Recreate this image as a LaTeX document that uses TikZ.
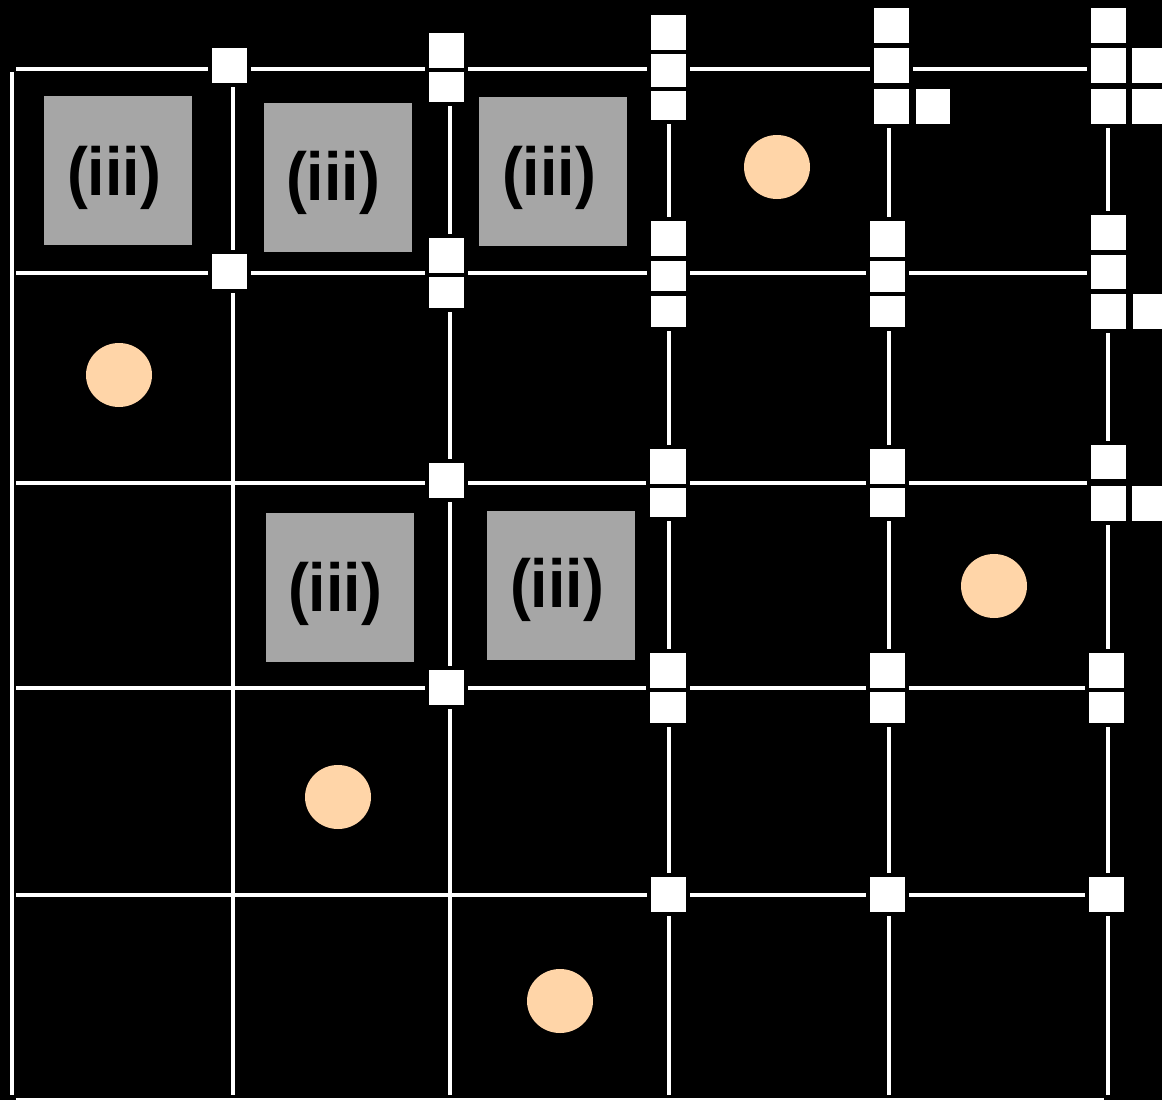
\documentclass[tikz,border=0pt]{standalone}
\usepackage{fontspec}
\setmainfont{Liberation Sans}
\definecolor{boxgrey}{HTML}{A6A6A6}
\definecolor{peach}{HTML}{FFD5A8}
\newcommand\sqbox[4]{\draw[sq] (#1-2,#2-2) rectangle (#3+2,#4+2);}
\begin{document}
\begin{tikzpicture}[x=1pt,y=-1pt,
  grid/.style={white, line width=4pt},
  sq/.style={fill=white, draw=black, line width=4pt},
  tile/.style={fill=boxgrey},
  orb/.style={fill=peach},
  lbl/.style={font=\bfseries\fontsize{68}{68}\selectfont, text=black, inner sep=0pt, xscale=0.92, transform shape}]
\useasboundingbox (0,0) rectangle (1162,1100);
\fill[black] (0,0) rectangle (1162,1100);
\clip (0,0) rectangle (1162,1100);
% horizontal grid lines
\draw[grid] (16,68.7) -- (1107,68.7);
\draw[grid] (16,273) -- (1107,273);
\draw[grid] (16,483.3) -- (1107,483.3);
\draw[grid] (16,688.3) -- (1107,688.3);
\draw[grid] (16,894.8) -- (1107,894.8);
\draw[grid] (16,1100) -- (1104,1100);
% vertical grid lines
\draw[grid] (11.5,72) -- (11.5,1095);
\draw[grid] (232.7,68) -- (232.7,1095);
\draw[grid] (450,68) -- (450,1095);
\draw[grid] (669,68) -- (669,1095);
\draw[grid] (888.5,68) -- (888.5,1095);
\draw[grid] (1107.7,68) -- (1107.7,1095);
% squares, row y=68
\sqbox{212}{48}{247}{83}
\sqbox{429.3}{33.3}{464.3}{68.3}
\sqbox{429.3}{72.3}{464.3}{101.7}
\sqbox{650.7}{14.7}{685.7}{50}
\sqbox{650.7}{54}{685.7}{87.3}
\sqbox{650.7}{91}{685.7}{120}
\sqbox{874}{8.3}{909}{43.3}
\sqbox{874}{47.7}{909}{82.7}
\sqbox{874}{89}{909}{124}
\sqbox{915.7}{89}{950.3}{124}
\sqbox{1091.3}{8.3}{1126.3}{43.3}
\sqbox{1091.3}{47.7}{1126.3}{82.7}
\sqbox{1091.3}{89}{1126.3}{124}
\sqbox{1132.3}{47.7}{1167.3}{82.7}
\sqbox{1132.3}{89}{1167.3}{124}
% squares, row y=272
\sqbox{212}{254}{247}{289}
\sqbox{429.3}{238}{464.3}{273}
\sqbox{429.3}{277.3}{464.3}{308.3}
\sqbox{650.7}{221.3}{685.7}{256.3}
\sqbox{650.7}{260.7}{685.7}{291.3}
\sqbox{650.7}{296}{685.7}{326.7}
\sqbox{870}{221}{905}{256.7}
\sqbox{870}{260.7}{905}{291.7}
\sqbox{870}{295.7}{905}{326.7}
\sqbox{1091.3}{215.3}{1126.3}{250.3}
\sqbox{1091.3}{254.7}{1126.3}{289.3}
\sqbox{1091.3}{294}{1126.3}{328.7}
\sqbox{1132.7}{294}{1167.7}{328.7}
% squares, row y=484
\sqbox{429.3}{463}{464.3}{498}
\sqbox{650.4}{449}{685.7}{484}
\sqbox{650.4}{488}{685.7}{517}
\sqbox{870}{449}{905}{484}
\sqbox{870}{488}{905}{517}
\sqbox{1091}{444.7}{1126}{479.3}
\sqbox{1091}{486}{1126}{520.7}
\sqbox{1132}{486}{1167}{520.7}
% squares, row y=688
\sqbox{429.3}{670}{464.3}{705}
\sqbox{650.4}{653}{685.7}{688}
\sqbox{650.4}{692}{685.7}{723}
\sqbox{870}{653}{905}{688}
\sqbox{870}{692}{905}{723}
\sqbox{1089}{653}{1124}{688}
\sqbox{1089}{692}{1124}{723}
% squares, row y=894
\sqbox{651}{877}{686}{912}
\sqbox{869.5}{877}{904.5}{912}
\sqbox{1089}{877}{1124}{912}
% grey tiles with labels
\fill[tile] (44,96) rectangle (192,245);
\node[lbl] (t1) at (114,178) {(iii)};
\fill[tile] (264,103) rectangle (412,252);
\node[lbl] (t2) at (333,183) {(iii)};
\fill[tile] (479,97) rectangle (627,246);
\node[lbl] (t3) at (549,178) {(iii)};
\fill[tile] (266,513) rectangle (414,662);
\node[lbl] (t4) at (335,594) {(iii)};
\fill[tile] (487,511) rectangle (635,660);
\node[lbl] (t5) at (557,590) {(iii)};
% orbs
\fill[orb] (777,167) ellipse [x radius=33, y radius=32];
\fill[orb] (119,375) ellipse [x radius=33, y radius=32];
\fill[orb] (994,586) ellipse [x radius=33, y radius=32];
\fill[orb] (338,797) ellipse [x radius=33, y radius=32];
\fill[orb] (560,1001) ellipse [x radius=33, y radius=32];
\end{tikzpicture}
\end{document}
